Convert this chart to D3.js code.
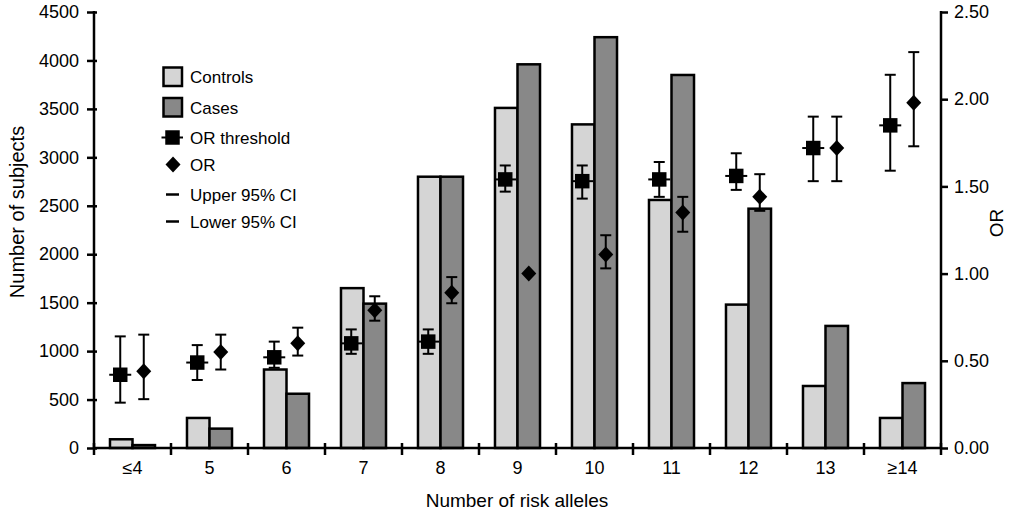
<!DOCTYPE html>
<html><head><meta charset="utf-8">
<script src="https://cdn.jsdelivr.net/npm/d3@7/dist/d3.min.js"></script>
<style>
html,body{margin:0;padding:0;background:#fff;}
svg{display:block;font-family:"Liberation Sans",Arial,sans-serif;}
</style></head>
<body><svg id="chart" width="1023" height="515"></svg>
<script>
const categories = ["≤4","5","6","7","8","9","10","11","12","13","≥14"];
const controls = [90, 310, 810, 1650, 2800, 3510, 3340, 2560, 1480, 640, 310];
const cases    = [30, 200, 560, 1490, 2800, 3960, 4240, 3850, 2470, 1260, 670];
const orThreshold    = [0.42, 0.49, 0.52, 0.60, 0.61, 1.54, 1.53, 1.54, 1.56, 1.72, 1.85];
const orThresholdUp  = [0.64, 0.59, 0.61, 0.68, 0.68, 1.62, 1.62, 1.64, 1.69, 1.90, 2.14];
const orThresholdLow = [0.26, 0.39, 0.46, 0.54, 0.54, 1.47, 1.43, 1.44, 1.48, 1.53, 1.59];
const orValue = [0.44, 0.55, 0.60, 0.79, 0.89, 1.00, 1.11, 1.35, 1.44, 1.72, 1.98];
const orUp    = [0.65, 0.65, 0.69, 0.87, 0.98, null, 1.22, 1.44, 1.57, 1.90, 2.27];
const orLow   = [0.28, 0.45, 0.53, 0.73, 0.83, null, 1.03, 1.24, 1.36, 1.53, 1.73];
const leftTicks = [0,500,1000,1500,2000,2500,3000,3500,4000,4500];
const rightTicks = [0,0.5,1.0,1.5,2.0,2.5];
const legendLabels = ["Controls","Cases","OR threshold","OR","Upper 95% CI","Lower 95% CI"];

const svg = d3.select("#chart");
const L = 94, R = 941, T = 12, B = 448;
const x = d3.scaleBand().domain(categories).range([L, R]).padding(0);
const xs = d3.scaleBand().domain(["controls","cases"]).range([0, x.bandwidth()]).paddingInner(0).paddingOuter(0.71);
const yL = d3.scaleLinear().domain([0, 4500]).range([B, T]);
const yR = d3.scaleLinear().domain([0, 2.5]).range([B, T]);
const fillC = "#d5d5d5", fillK = "#888888";
const sw = 2.5;

const g = svg.append("g");
categories.forEach((c, i) => {
  g.append("rect").attr("x", x(c) + xs("controls")).attr("y", yL(controls[i]))
    .attr("width", xs.bandwidth()).attr("height", B - yL(controls[i]))
    .attr("fill", fillC).attr("stroke", "#000").attr("stroke-width", sw);
  g.append("rect").attr("x", x(c) + xs("cases")).attr("y", yL(cases[i]))
    .attr("width", xs.bandwidth()).attr("height", B - yL(cases[i]))
    .attr("fill", fillK).attr("stroke", "#000").attr("stroke-width", sw);
});

function errbar(cx, lo, hi) {
  if (lo == null || hi == null) return;
  g.append("line").attr("x1", cx).attr("x2", cx).attr("y1", yR(lo)).attr("y2", yR(hi))
    .attr("stroke", "#000").attr("stroke-width", 2);
  [lo, hi].forEach(v => g.append("line").attr("x1", cx - 5.5).attr("x2", cx + 5.5)
    .attr("y1", yR(v)).attr("y2", yR(v)).attr("stroke", "#000").attr("stroke-width", 2));
}
const sq = d3.symbol().type(d3.symbolSquare).size(210);
const dm = "M0,-8L7.5,0L0,8L-7.5,0Z";
categories.forEach((c, i) => {
  const cx1 = x(c) + xs("controls") + xs.bandwidth() / 2 - 1;
  const cx2 = x(c) + xs("cases") + xs.bandwidth() / 2;
  errbar(cx1, orThresholdLow[i], orThresholdUp[i]);
  g.append("line").attr("x1", cx1 - 11).attr("x2", cx1 + 11)
    .attr("y1", yR(orThreshold[i])).attr("y2", yR(orThreshold[i]))
    .attr("stroke", "#000").attr("stroke-width", 2);
  g.append("path").attr("d", sq).attr("transform", `translate(${cx1},${yR(orThreshold[i])})`).attr("fill", "#000");
  errbar(cx2, orLow[i], orUp[i]);
  g.append("path").attr("d", dm).attr("transform", `translate(${cx2},${yR(orValue[i])})`).attr("fill", "#000");
});

const ax = svg.append("g").attr("stroke", "#000").attr("stroke-width", sw);
ax.append("line").attr("x1", L).attr("x2", L).attr("y1", T - 1).attr("y2", B + 1);
ax.append("line").attr("x1", R).attr("x2", R).attr("y1", T - 1).attr("y2", B + 1);
ax.append("line").attr("x1", L).attr("x2", R).attr("y1", B).attr("y2", B);

const leftAxis = svg.append("g").attr("transform", `translate(${L},0)`)
  .call(d3.axisLeft(yL).tickValues(leftTicks).tickSizeInner(7).tickSizeOuter(0).tickPadding(8).tickFormat(d3.format("d")));
leftAxis.select(".domain").remove();
leftAxis.selectAll(".tick line").attr("x1", 3).attr("stroke-width", sw);
leftAxis.selectAll(".tick text").attr("font-size", 18).attr("fill", "#000").attr("font-family", "Liberation Sans, Arial, sans-serif");

const rightAxis = svg.append("g").attr("transform", `translate(${R},0)`)
  .call(d3.axisRight(yR).tickValues(rightTicks).tickSizeInner(7).tickSizeOuter(0).tickPadding(6).tickFormat(d3.format(".2f")));
rightAxis.select(".domain").remove();
rightAxis.selectAll(".tick line").attr("stroke-width", sw);
rightAxis.selectAll(".tick text").attr("font-size", 18).attr("fill", "#000").attr("font-family", "Liberation Sans, Arial, sans-serif");

const bounds = categories.map(c => x(c)).concat([R]);
svg.append("g").selectAll("line").data(bounds).join("line")
  .attr("x1", d => d).attr("x2", d => d).attr("y1", B - 5).attr("y2", B + 7)
  .attr("stroke", "#000").attr("stroke-width", sw);
svg.append("g").selectAll("text").data(categories).join("text")
  .attr("x", d => x(d) + x.bandwidth() / 2).attr("y", 473.5)
  .attr("text-anchor", "middle").attr("font-size", 18).text(d => d);

svg.append("text").attr("x", 517).attr("y", 507).attr("text-anchor", "middle")
  .attr("font-size", 19).text("Number of risk alleles");
svg.append("text").attr("transform", "translate(24,212) rotate(-90)").attr("text-anchor", "middle")
  .attr("font-size", 20).text("Number of subjects");
svg.append("text").attr("transform", "translate(1003,223) rotate(-90)").attr("text-anchor", "middle")
  .attr("font-size", 19).text("OR");

const lg = svg.append("g");
const ly = [77, 107.5, 137.5, 164.5, 194.5, 221.5];
lg.append("rect").attr("x", 163.5).attr("y", ly[0] - 9.5).attr("width", 18.5).attr("height", 18.5)
  .attr("fill", fillC).attr("stroke", "#000").attr("stroke-width", sw);
lg.append("rect").attr("x", 163.5).attr("y", ly[1] - 9.5).attr("width", 18.5).attr("height", 18.5)
  .attr("fill", fillK).attr("stroke", "#000").attr("stroke-width", sw);
lg.append("line").attr("x1", 161.5).attr("x2", 183).attr("y1", ly[2]).attr("y2", ly[2]).attr("stroke", "#000").attr("stroke-width", 2);
lg.append("path").attr("d", sq).attr("transform", `translate(172.5,${ly[2]})`).attr("fill", "#000");
lg.append("path").attr("d", dm).attr("transform", `translate(173,${ly[3]})`).attr("fill", "#000");
lg.append("line").attr("x1", 166).attr("x2", 179).attr("y1", ly[4]).attr("y2", ly[4]).attr("stroke", "#000").attr("stroke-width", 2.5);
lg.append("line").attr("x1", 166).attr("x2", 179).attr("y1", ly[5]).attr("y2", ly[5]).attr("stroke", "#000").attr("stroke-width", 2.5);
lg.selectAll("text.lab").data(legendLabels).join("text").attr("class", "lab")
  .attr("x", 190).attr("y", (d, i) => ly[i]).attr("dy", "0.36em")
  .attr("font-size", 17).text(d => d);
</script></body></html>
